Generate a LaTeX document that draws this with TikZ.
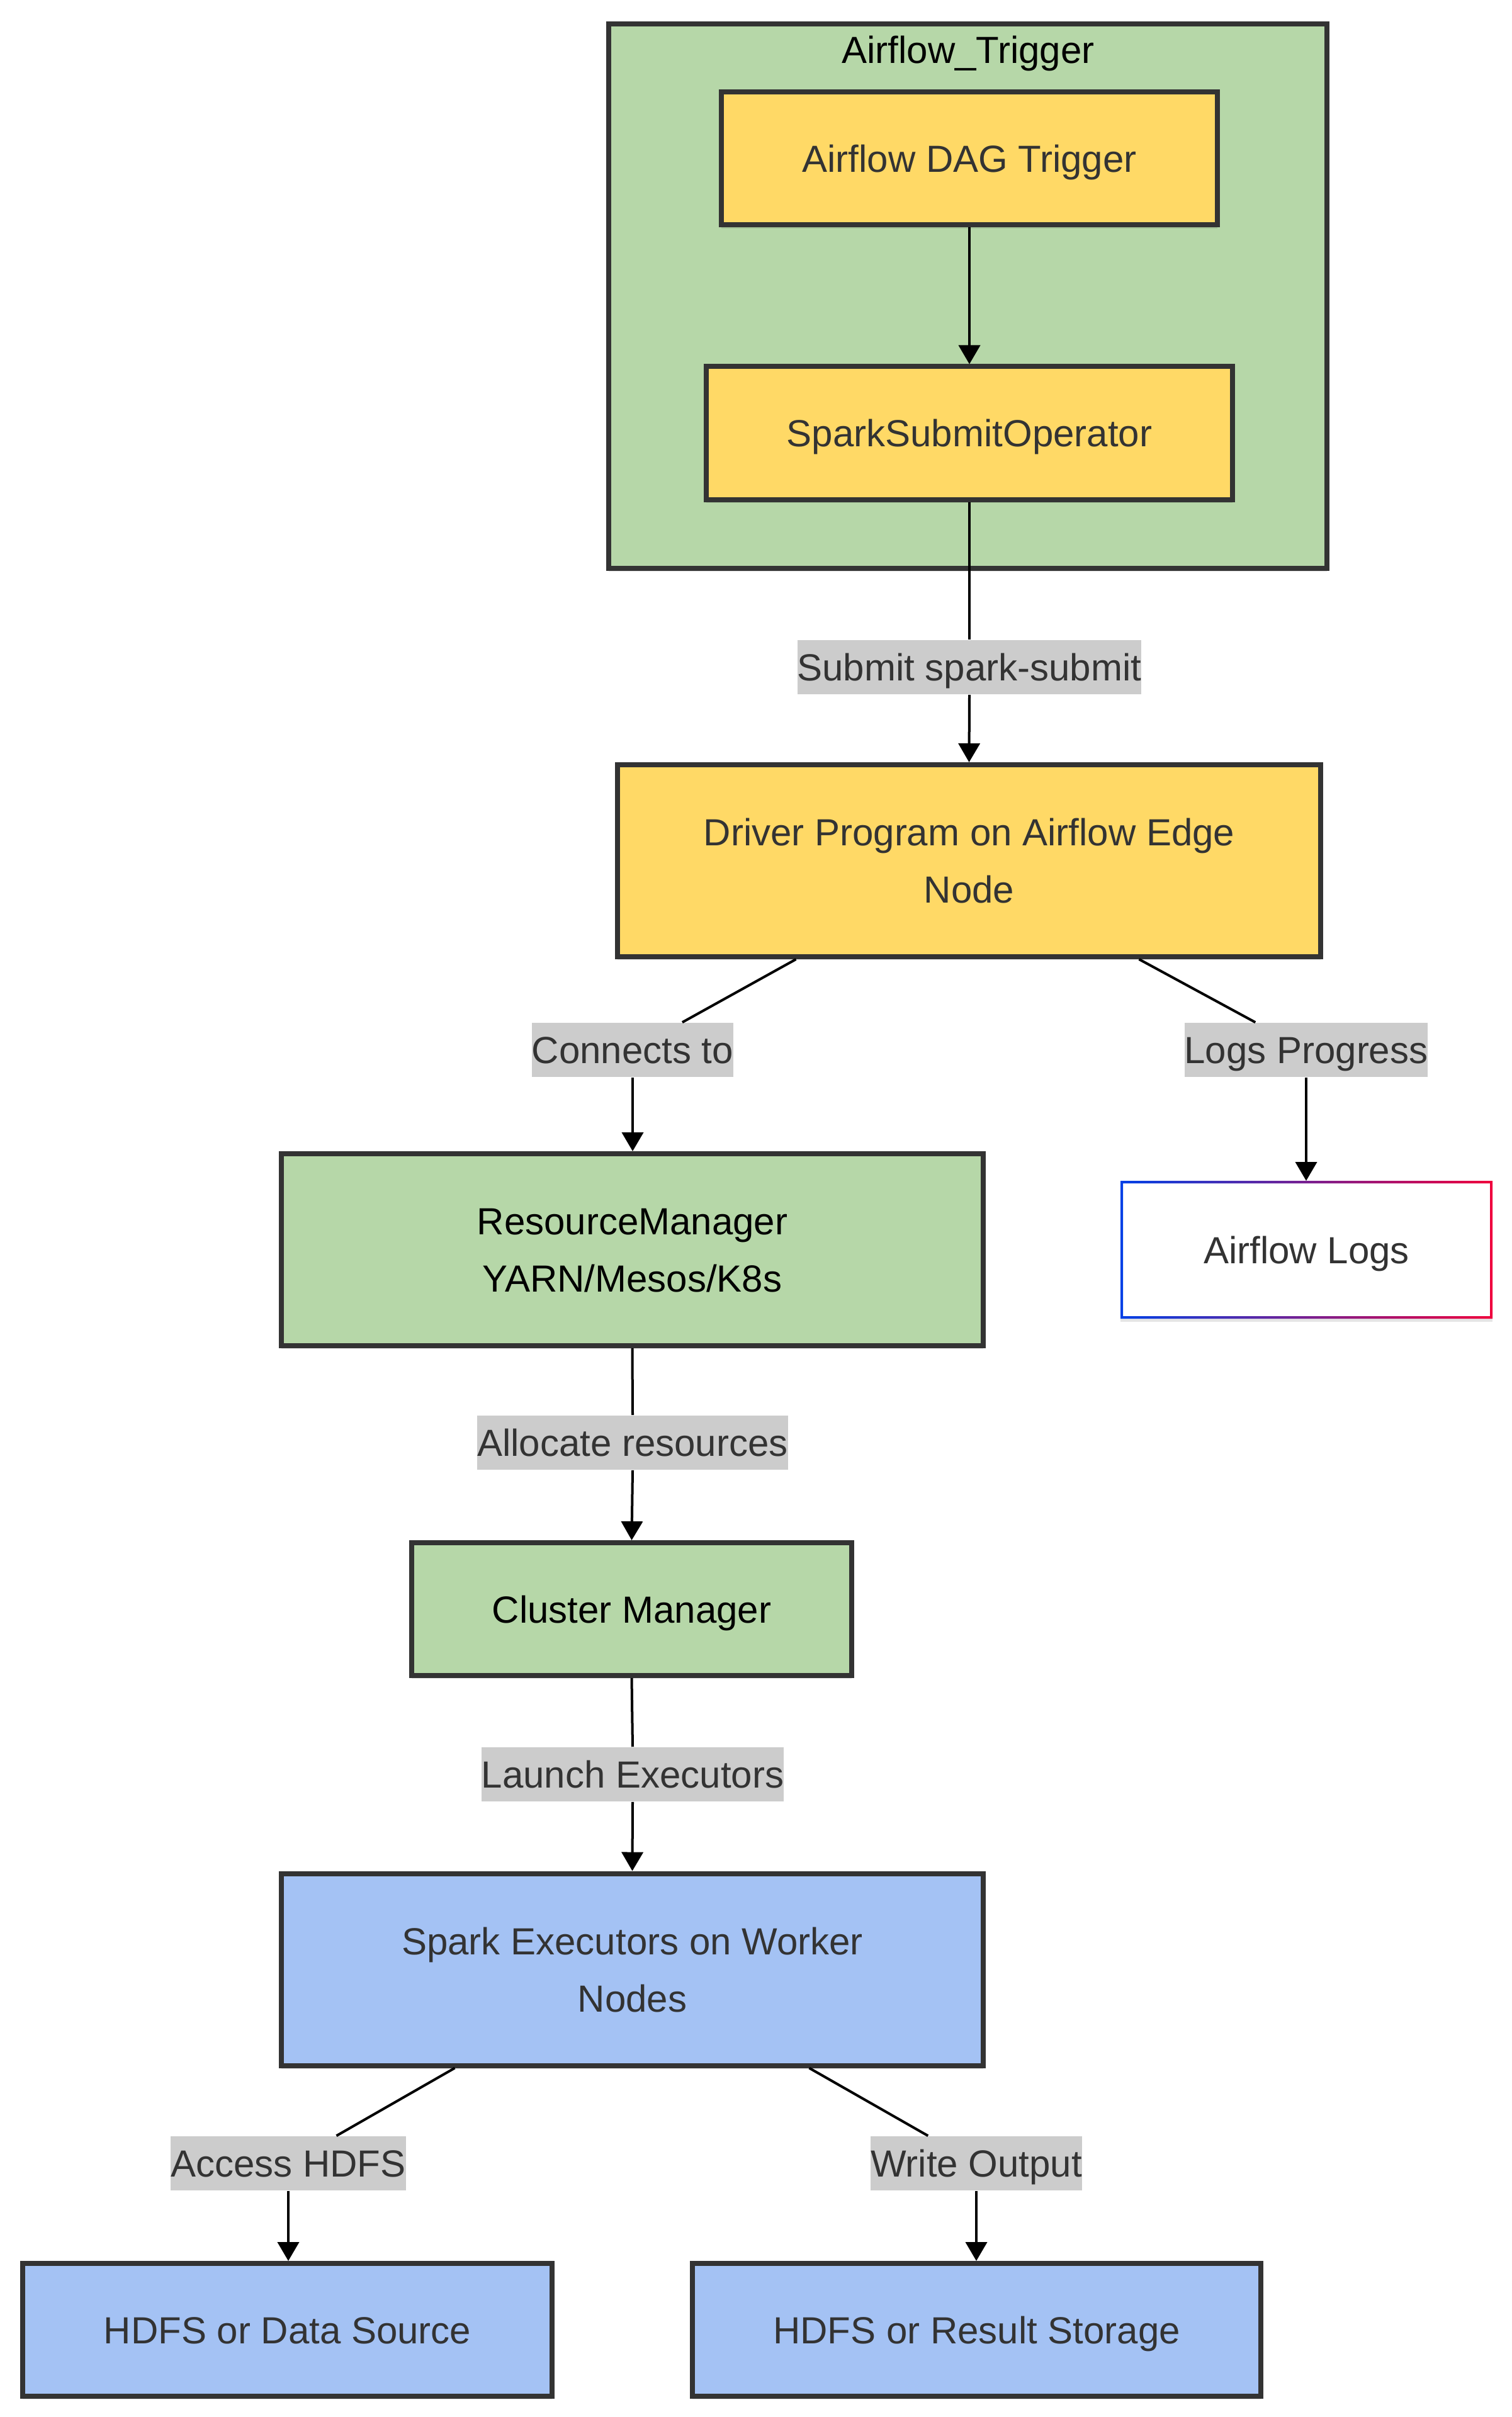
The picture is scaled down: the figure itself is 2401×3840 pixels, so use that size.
\documentclass[tikz,border=0pt]{standalone}
\usepackage{fontspec}
\setmainfont{Liberation Sans}
\usetikzlibrary{arrows.meta,calc,shadows}
\definecolor{ylw}{HTML}{FFD966}
\definecolor{grn}{HTML}{B6D7A8}
\definecolor{blu}{HTML}{A4C2F4}
\definecolor{bd}{HTML}{333333}
\definecolor{txt}{HTML}{333333}
\definecolor{lblbg}{HTML}{CCCCCC}
\definecolor{gblue}{HTML}{0040E6}
\definecolor{gred}{HTML}{F0003C}
\begin{document}
\begin{tikzpicture}[x=0.25pt,y=-0.25pt,
  sh/.style={drop shadow={shadow xshift=0pt,shadow yshift=-1.3pt,opacity=0.10,fill=black}},
  box/.style={draw=bd, line width=2pt, rectangle, inner sep=0pt, align=center,
    font=\fontsize{15}{22.75}\selectfont, text=txt, text height=10.8pt, text depth=0pt, sh},
  box2/.style={box, text height=33.55pt},
  lbl/.style={fill=lblbg, inner xsep=0pt, inner ysep=0pt, minimum height=21.5pt,
    text=txt, font=\fontsize{15}{18}\selectfont, text height=10.8pt, text depth=0pt},
  edge/.style={draw=black, line width=1pt, -{Triangle[width=8.5pt,length=7.5pt]}},
  seg/.style={draw=black, line width=1pt}]
\useasboundingbox (0,0) rectangle (2401,3840);

% cluster
\node[draw=bd, line width=2.2pt, fill=grn, minimum width=285.25pt, minimum height=216.25pt, inner sep=0pt, sh] (clu) at (1537.5,470.5) {};
\node[font=\fontsize{15}{18}\selectfont, text=black, text height=10.8pt, text depth=0pt, inner sep=0pt] (ttl) at (1538,79) {Airflow\_Trigger};

% nodes
\node[box, fill=ylw, minimum width=197pt, minimum height=52.75pt] (dag) at (1540,252) {Airflow DAG Trigger};
\node[box, fill=ylw, minimum width=209pt, minimum height=52.75pt] (sso) at (1540,688) {SparkSubmitOperator};
\node[box2, fill=ylw, minimum width=279.25pt, minimum height=76.25pt] (drv) at (1539.5,1367.5) {Driver Program on Airflow Edge\\Node};
\node[box2, fill=grn, text=black, minimum width=278.75pt, minimum height=76.25pt] (rm) at (1004.5,1985.5) {ResourceManager\\YARN/Mesos/K8s};
\node[box, draw=none, fill=white, outer sep=0pt, minimum width=147.75pt, minimum height=54.75pt] (logs) at (2075.5,1985.5) {Airflow Logs};
\shade[left color=gblue, right color=gred, even odd rule]
  (logs.north west) rectangle (logs.south east)
  ($(logs.north west)+(4,4)$) rectangle ($(logs.south east)+(-4,-4)$);
\node[box, fill=grn, text=black, minimum width=174.75pt, minimum height=52.75pt] (cm) at (1003.5,2556.5) {Cluster Manager};
\node[box2, fill=blu, minimum width=278.75pt, minimum height=76.25pt] (se) at (1004.5,3129) {Spark Executors on Worker\\Nodes};
\node[box, fill=blu, minimum width=210.25pt, minimum height=52.75pt] (ds) at (456.5,3701.5) {HDFS or Data Source};
\node[box, fill=blu, minimum width=225.75pt, minimum height=52.75pt] (rs) at (1551.5,3701.5) {HDFS or Result Storage};

% edge labels
\node[lbl] (lsub) at (1540,1060) {Submit spark-submit};
\node[lbl] (lcon) at (1005,1668) {Connects to};
\node[lbl] (llog) at (2075,1668) {Logs Progress};
\node[lbl] (lall) at (1005,2292) {Allocate resources};
\node[lbl] (llau) at (1005,2819) {Launch Executors};
\node[lbl] (lacc) at (458,3437) {Access HDFS};
\node[lbl] (lwri) at (1551,3437) {Write Output};

% edges
\draw[edge] (dag.south) -- (sso.north);
\draw[seg] (sso.south) -- (lsub.north);
\draw[edge] (lsub.south) -- (drv.north);
\draw[seg] ($(drv.south)+(-275,0)$) -- (lcon);
\draw[edge] (lcon.south) -- (lcon.south |- rm.north);
\draw[seg] ($(drv.south)+(270,0)$) -- (llog);
\draw[edge] (llog.south) -- (llog.south |- logs.north);
\draw[seg] (rm.south) -- (lall.north);
\draw[edge] (lall.south) -- (cm.north);
\draw[seg] (cm.south) -- (llau.north);
\draw[edge] (llau.south) -- (se.north);
\draw[seg] ($(se.south)+(-282,0)$) -- (lacc);
\draw[edge] (lacc.south) -- (lacc.south |- ds.north);
\draw[seg] ($(se.south)+(281,0)$) -- (lwri);
\draw[edge] (lwri.south) -- (lwri.south |- rs.north);
\end{tikzpicture}
\end{document}
